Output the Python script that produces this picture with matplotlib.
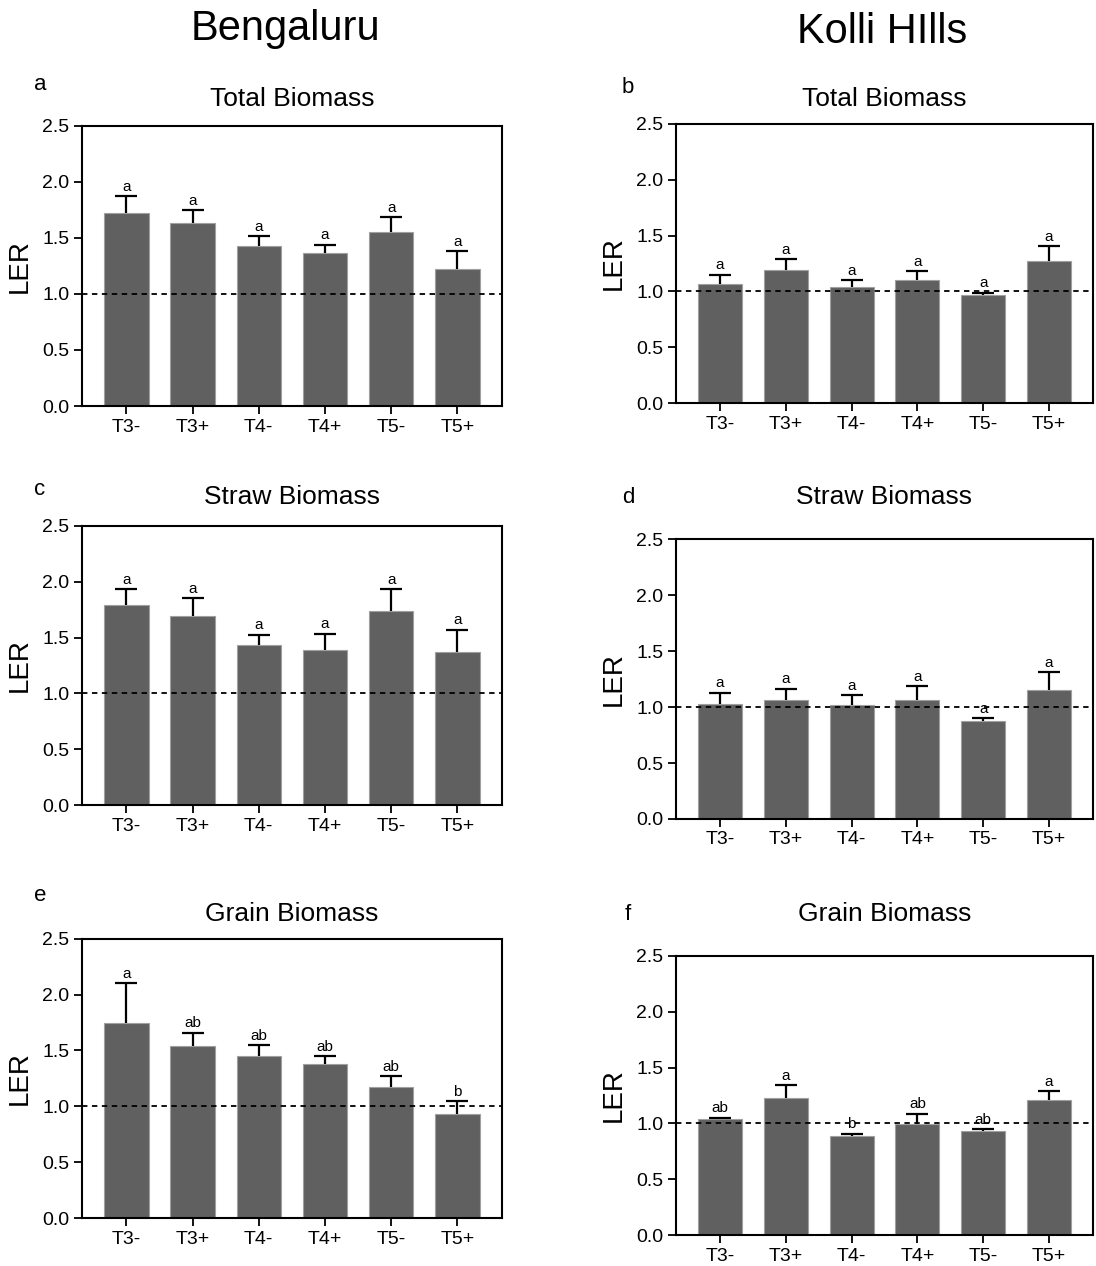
import matplotlib.pyplot as plt
import numpy as np

plt.rcParams['font.family'] = ['Liberation Sans', 'DejaVu Sans']

labels = ['T3-', 'T3+', 'T4-', 'T4+', 'T5-', 'T5+']

# Bengaluru
blr_total = [1.72, 1.63, 1.43, 1.37, 1.55, 1.22]
blr_total_err = [0.155, 0.12, 0.085, 0.07, 0.135, 0.165]
blr_total_sig = ['a', 'a', 'a', 'a', 'a', 'a']

blr_straw = [1.79, 1.69, 1.43, 1.39, 1.74, 1.37]
blr_straw_err = [0.14, 0.16, 0.095, 0.145, 0.19, 0.20]
blr_straw_sig = ['a', 'a', 'a', 'a', 'a', 'a']

blr_grain = [1.75, 1.54, 1.45, 1.38, 1.17, 0.93]
blr_grain_err = [0.35, 0.12, 0.10, 0.07, 0.10, 0.12]
blr_grain_sig = ['a', 'ab', 'ab', 'ab', 'ab', 'b']

# Kolli Hills
kh_total = [1.07, 1.19, 1.04, 1.10, 0.97, 1.27]
kh_total_err = [0.08, 0.10, 0.065, 0.085, 0.02, 0.135]
kh_total_sig = ['a', 'a', 'a', 'a', 'a', 'a']

kh_straw = [1.03, 1.06, 1.02, 1.06, 0.875, 1.15]
kh_straw_err = [0.10, 0.105, 0.085, 0.125, 0.025, 0.16]
kh_straw_sig = ['a', 'a', 'a', 'a', 'a', 'a']

kh_grain = [1.04, 1.23, 0.885, 0.995, 0.93, 1.21]
kh_grain_err = [0.012, 0.115, 0.024, 0.093, 0.018, 0.08]
kh_grain_sig = ['ab', 'a', 'b', 'ab', 'ab', 'a']

x = np.arange(len(labels))

fig = plt.figure(figsize=(10.96, 12.66), dpi=100)


def panel(rect, means, errs, sig):
    ax = fig.add_axes(rect)
    means = np.array(means)
    errs = np.array(errs)
    ax.bar(x, means, width=0.67, color='#606060', edgecolor='#a0a0a0',
           linewidth=0.8, zorder=2)
    # upper error bars only
    ax.vlines(x, means, means + errs, color='k', lw=1.6, zorder=3)
    ax.plot(x, means + errs, ls='none', marker='_', ms=16, mew=1.6,
            color='k', zorder=3)
    for xi, top, s in zip(x, means + errs, sig):
        ax.text(xi, top + 0.02, s, ha='center', va='bottom', fontsize=11)
    ax.axhline(1.0, color='k', ls=(0, (3, 2.5)), lw=1.3, zorder=4)
    ax.set_xlim(-0.67, 5.67)
    ax.set_ylim(0, 2.5)
    ax.set_yticks(np.arange(0, 2.51, 0.5))
    ax.set_yticklabels(['%.1f' % v for v in np.arange(0, 2.51, 0.5)])
    ax.set_xticks(x)
    ax.set_xticklabels(labels)
    ax.tick_params(axis='both', labelsize=14, width=1.3, length=6,
                   direction='out', pad=3)
    for sp in ax.spines.values():
        sp.set_linewidth(1.5)
    ax.set_ylabel('LER', fontsize=20)
    ax.yaxis.set_label_coords(-0.117, 0.5)
    return ax


panel([0.0748, 0.6793, 0.383, 0.2212], blr_total, blr_total_err, blr_total_sig)
panel([0.6168, 0.6814, 0.3805, 0.2209], kh_total, kh_total_err, kh_total_sig)
panel([0.0748, 0.3639, 0.383, 0.2209], blr_straw, blr_straw_err, blr_straw_sig)
panel([0.6168, 0.3531, 0.3805, 0.2209], kh_straw, kh_straw_err, kh_straw_sig)
panel([0.0748, 0.0377, 0.383, 0.2209], blr_grain, blr_grain_err, blr_grain_sig)
panel([0.6168, 0.0242, 0.3805, 0.2209], kh_grain, kh_grain_err, kh_grain_sig)

# column headings
fig.text(0.26, 0.977, 'Bengaluru', ha='center', va='center', fontsize=30)
fig.text(0.8047, 0.975, 'Kolli HIlls', ha='center', va='center', fontsize=30)

# panel titles
for y, t in [(0.9218, 'Total Biomass'), (0.6074, 'Straw Biomass'),
             (0.278, 'Grain Biomass')]:
    fig.text(0.2664, y, t, ha='center', va='center', fontsize=19)
    fig.text(0.807, y, t, ha='center', va='center', fontsize=19)

# panel letters
for xl, yl, s in [(0.0365, 0.9329, 'a'), (0.573, 0.9305, 'b'),
                  (0.0365, 0.613, 'c'), (0.573, 0.6074, 'd'),
                  (0.0365, 0.293, 'e'), (0.573, 0.2773, 'f')]:
    fig.text(xl, yl, s, ha='center', va='center', fontsize=16)

plt.savefig('out.png', dpi=100)
